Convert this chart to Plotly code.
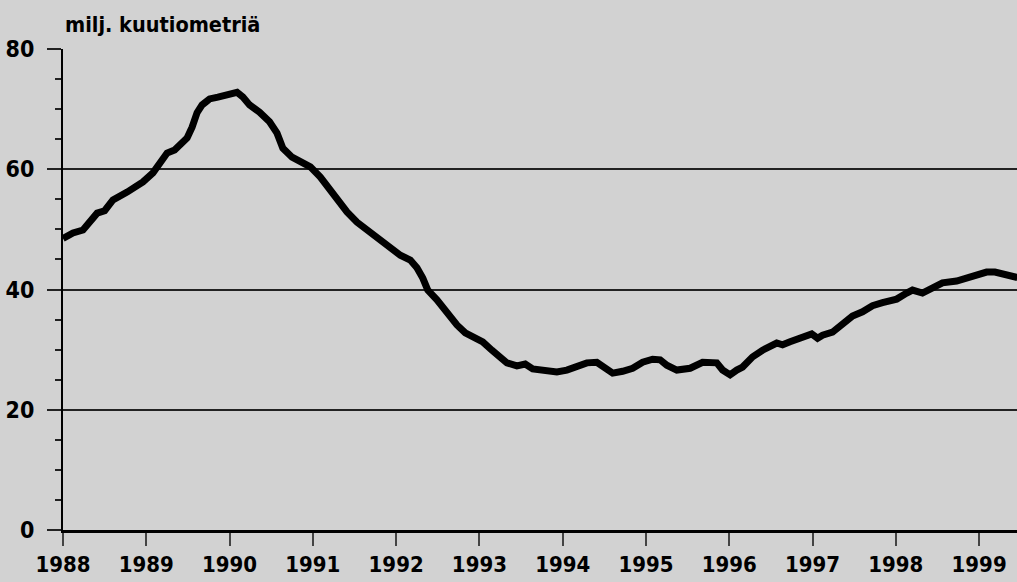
import plotly.graph_objects as go

# traced time (decimal years) and values (million cubic metres)
years = [1988.00, 1988.12, 1988.24, 1988.32, 1988.41, 1988.50, 1988.60, 1988.77, 1988.96,
         1989.08, 1989.16, 1989.25, 1989.34, 1989.49, 1989.55, 1989.61, 1989.67, 1989.76,
         1989.86, 1989.92, 1990.09, 1990.16, 1990.24, 1990.36, 1990.48, 1990.57, 1990.64,
         1990.75, 1990.88, 1990.97, 1991.09, 1991.21, 1991.33, 1991.41, 1991.53, 1991.65,
         1991.77, 1991.89, 1992.05, 1992.17, 1992.25, 1992.32, 1992.38, 1992.49, 1992.61,
         1992.73, 1992.83, 1992.95, 1993.04, 1993.15, 1993.25, 1993.33, 1993.45, 1993.55,
         1993.64, 1993.76, 1993.93, 1994.05, 1994.17, 1994.29, 1994.41, 1994.51, 1994.60,
         1994.72, 1994.84, 1994.96, 1995.08, 1995.17, 1995.25, 1995.37, 1995.53, 1995.68,
         1995.85, 1995.92, 1996.01, 1996.09, 1996.16, 1996.28, 1996.40, 1996.57, 1996.64,
         1996.73, 1996.85, 1996.99, 1997.06, 1997.12, 1997.24, 1997.36, 1997.48, 1997.60,
         1997.72, 1997.84, 1998.01, 1998.13, 1998.20, 1998.32, 1998.44, 1998.56, 1998.73,
         1998.85, 1998.97, 1999.09, 1999.19, 1999.28, 1999.40, 1999.46]
values = [48.5, 49.4, 49.9, 51.1, 52.7, 53.1, 54.9, 56.2, 57.9,
          59.4, 61.0, 62.7, 63.2, 65.2, 67.0, 69.4, 70.7, 71.7,
          72.0, 72.2, 72.8, 72.0, 70.7, 69.5, 67.9, 66.0, 63.5,
          62.0, 61.0, 60.4, 58.7, 56.5, 54.1, 52.9, 51.2, 49.9,
          48.6, 47.1, 45.7, 44.9, 43.6, 41.9, 39.9, 38.3, 36.1,
          34.1, 32.8, 32.1, 31.3, 29.9, 28.6, 27.8, 27.3, 27.6,
          26.8, 26.6, 26.3, 26.6, 27.3, 27.8, 27.9, 27.1, 26.1,
          26.4, 26.9, 27.9, 28.4, 28.3, 27.4, 26.6, 26.9, 27.9,
          27.8, 26.6, 25.8, 26.6, 27.1, 28.8, 29.9, 31.1, 30.8,
          31.3, 31.8, 32.6, 31.9, 32.4, 32.9, 34.4, 35.6, 36.3,
          37.3, 37.8, 38.4, 39.4, 39.9, 39.4, 40.1, 41.1, 41.4,
          41.9, 42.6, 42.9, 42.9, 42.6, 42.1, 42.0]

x_ticks = list(range(1988, 2000))
y_ticks = [0, 20, 40, 60, 80]
unit_label = "milj. kuutiometriä"

FONT = "DejaVu Sans Condensed, Liberation Sans Narrow, Arial Narrow, sans-serif"
BG = "#d2d2d2"

fig = go.Figure()
fig.add_trace(go.Scatter(x=years, y=values, mode="lines",
                         line=dict(color="black", width=7, shape="linear"),
                         showlegend=False, hoverinfo="skip"))

fig.update_layout(
    width=1017, height=582,
    margin=dict(l=63, r=0, t=49, b=52, autoexpand=False),
    paper_bgcolor=BG, plot_bgcolor=BG,
    font=dict(family=FONT, color="black", size=23, weight="bold"),
    xaxis=dict(range=[1988, 1999.455], tickvals=x_ticks, ticktext=[str(v) for v in x_ticks],
               ticks="outside", ticklen=13, tickwidth=2, tickcolor="#444", automargin=False,
               showgrid=False, zeroline=False, showline=True, linewidth=3, linecolor="black",
               ticklabelstandoff=0, tickfont=dict(size=22, family=FONT, weight="bold")),
    yaxis=dict(range=[0, 80], tickvals=y_ticks, ticks="outside", ticklen=14, tickwidth=1.5,
               tickcolor="#222", showgrid=True, gridcolor="#222", gridwidth=1.5, automargin=False,
               zeroline=False, showline=True, linewidth=2, linecolor="black",
               ticklabelstandoff=8, tickfont=dict(size=23, family=FONT, weight="bold"),
               minor=dict(tickvals=[5, 10, 15, 25, 30, 35, 45, 50, 55, 65, 70, 75],
                          ticks="outside", ticklen=6, tickwidth=1.5, tickcolor="#222",
                          showgrid=False)),
    annotations=[dict(text=unit_label, xref="paper", yref="paper", x=0, y=1,
                      xanchor="left", yanchor="bottom", yshift=10, xshift=0, showarrow=False,
                      font=dict(size=21.5, family=FONT, weight="bold", color="black"))],
)

fig.write_html("out.html", config={"displayModeBar": False},
               post_script="document.body.style.margin='0';document.body.style.overflow='hidden';")
